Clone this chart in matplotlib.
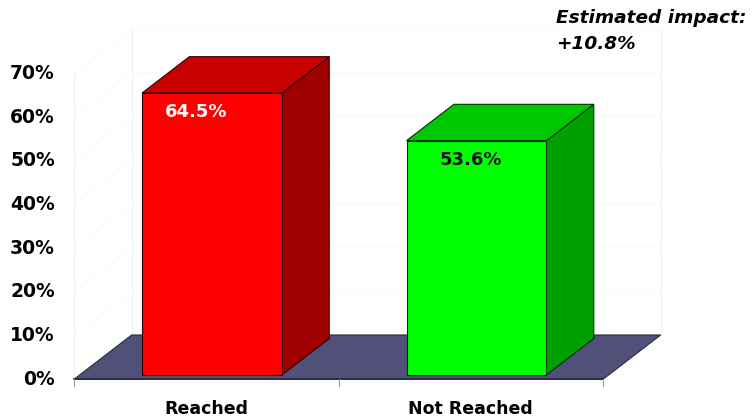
import matplotlib
matplotlib.use("Agg")
from matplotlib import pyplot as plt
from matplotlib.patches import Polygon

# data
categories = ['Reached', 'Not Reached']
values = [64.5, 53.6]
value_labels = ['64.5%', '53.6%']
tick_values = [0, 10, 20, 30, 40, 50, 60, 70]
tick_labels = ['0%', '10%', '20%', '30%', '40%', '50%', '60%', '70%']
impact_lines = ['Estimated impact:', '+10.8%']

# style
front_colors = ['#ff0000', '#00ff00']
top_colors = ['#c80000', '#00c800']
side_colors = ['#a00000', '#00a000']
edge_colors = ['#330000', '#003300']
label_colors = ['white', '#111111']
label_nudge = [-0.06, -0.02]   # x nudge of value labels (category units)
floor_color = '#505078'

# fake 3d: depth d in [0, 1] shifts points right and up
DX, DY = 0.218, 10.14
bar_w = 0.529
d0, d1 = 0.1, 0.92


def proj(u, v, d):
    return (u + d * DX, v + d * DY)


fig = plt.figure(figsize=(7.52, 4.17), dpi=100)
ax = fig.add_axes([0, 0, 1, 1])
ax.set_xlim(-0.2798, 2.5633)
ax.set_ylim(-8.63, 86.8)
ax.axis('off')

n = len(categories)

# walls (barely visible)
wall = '#f0f0f0'
ax.plot(*zip(proj(0, 0, 0), proj(0, 70, 0)), color=wall, lw=0.8, zorder=0)
ax.plot(*zip(proj(0, 0, 1), proj(0, 70, 1)), color=wall, lw=0.8, zorder=0)
ax.plot(*zip(proj(n, 0, 1), proj(n, 70, 1)), color=wall, lw=0.8, zorder=0)
for t in tick_values[1:]:
    ax.plot(*zip(proj(0, t, 0), proj(0, t, 1), proj(n, t, 1)), color='#f9f9f9', lw=0.8, zorder=0)

# floor
floor = [proj(0, 0, 0), proj(0, 0, 1), proj(n, 0, 1), proj(n, 0, 0)]
ax.add_patch(Polygon(floor, closed=True, facecolor=floor_color, edgecolor='#2a2a44', lw=0.8, zorder=1))
ax.plot(*zip(proj(0, 0, 0), proj(n, 0, 0)), color='#2a2a44', lw=1.2, zorder=1)

# category ticks below the front edge
for i in range(n + 1):
    ax.plot([i, i], [0, -1.6], color='#9a9a9a', lw=0.8, zorder=1)

# bars
for i, v in enumerate(values):
    l = i + 0.5 - bar_w / 2
    r = i + 0.5 + bar_w / 2
    side = [proj(r, 0, d0), proj(r, 0, d1), proj(r, v, d1), proj(r, v, d0)]
    top = [proj(l, v, d0), proj(l, v, d1), proj(r, v, d1), proj(r, v, d0)]
    front = [proj(l, 0, d0), proj(r, 0, d0), proj(r, v, d0), proj(l, v, d0)]
    ax.add_patch(Polygon(side, closed=True, facecolor=side_colors[i], edgecolor=edge_colors[i], lw=0.8, zorder=2))
    ax.add_patch(Polygon(top, closed=True, facecolor=top_colors[i], edgecolor=edge_colors[i], lw=0.8, zorder=2))
    ax.add_patch(Polygon(front, closed=True, facecolor=front_colors[i], edgecolor=edge_colors[i], lw=0.8, zorder=3))
    lx, ly = proj(i + 0.5 + label_nudge[i], v - 4.4, d0)
    ax.text(lx, ly, value_labels[i], color=label_colors[i], fontsize=13, fontweight='bold',
            ha='center', va='center', zorder=4)
    ax.text(i + 0.5, -6.7, categories[i], fontsize=12.5, fontweight='bold', ha='center', va='center')

# value axis labels
for t, s in zip(tick_values, tick_labels):
    ax.text(-0.072, t, s, fontsize=13.5, fontweight='bold', ha='right', va='center')

# impact note
fig.text(556 / 752, 1 - 18 / 417, impact_lines[0], fontsize=13.3, fontweight='bold', style='italic', va='center')
fig.text(556 / 752, 1 - 44 / 417, impact_lines[1], fontsize=13.3, fontweight='bold', style='italic', va='center')

fig.savefig('out.png', dpi=100)
